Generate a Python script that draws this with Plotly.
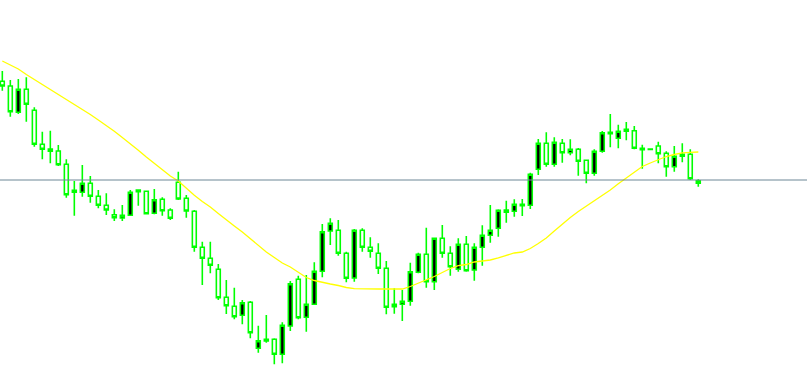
import plotly.graph_objects as go

# bar index
bars = list(range(88))

opens = [318.7, 314, 287.7, 310.7, 289.7, 255.7, 251, 249, 235.7, 209.7,
         207.7, 216.7, 203.7, 194.7, 185.3, 182, 184.7, 210, 208.7, 186.7,
         200.7, 190, 217.7, 201.7, 188.7, 152.7, 141.7, 130.7, 102.7, 93.7,
         84.7, 97.7, 51.7, 60.7, 60.7, 45.7, 74, 120.7, 82.7, 95.7,
         128.7, 169, 169.7, 146.7, 122, 169.7, 152.7, 146.7, 131.7, 93.3,
         95.7, 98.7, 127.7, 145.7, 118.3, 161.7, 146.7, 130.7, 155.7, 130,
         152.7, 164.7, 171.7, 190, 188.7, 195.7, 194.7, 230.7, 256.7, 235.7,
         256.7, 247.3, 250.7, 239.7, 226.7, 248.7, 267.7, 261.7, 270.7, 269.3,
         251.7, 250.9, 254, 246.7, 233.3, 243.7, 245.7, 216.7]
highs = [329, 320, 321, 322.7, 292.7, 268.3, 269.3, 255, 240.7, 219,
         235, 224, 210, 206.7, 190.7, 195, 210, 210.7, 209, 211,
         202.7, 191.7, 228.3, 205, 190, 158.3, 158.3, 136, 120, 112.3,
         100, 99, 74.3, 85, 61.7, 77.7, 119, 124.3, 125, 137.7,
         176, 181.7, 180, 148.3, 171, 171.7, 162.7, 156.7, 139, 111.7,
         110, 137.3, 147.3, 172.3, 162.3, 175, 153.7, 161.7, 164, 156.7,
         174.7, 195, 190.7, 199.3, 200.7, 201, 227.3, 261, 267.7, 262.7,
         261, 260.7, 252, 240, 250.7, 269, 286, 275.3, 278, 274,
         255.3, 251, 258.3, 248.7, 254, 256.7, 250.7, 220.7]
lows = [309.3, 283.3, 286, 278.3, 253.3, 240.7, 236.7, 234, 202.3, 184.3,
        203.3, 197.3, 191.7, 185, 179, 179, 184.3, 194.3, 185.7, 185.7,
        184.3, 180, 200, 182.3, 148.3, 115, 126.7, 100, 86, 80.7,
        75.7, 61.7, 47.3, 57.3, 35.7, 36.7, 69, 80.7, 68.3, 95,
        122.7, 155, 144.3, 117.7, 118.3, 148.3, 142.3, 126, 85.7, 86.3,
        79, 94.3, 126.7, 112.3, 110, 142.3, 124.3, 128.3, 128.3, 119.3,
        134.3, 157.3, 163.3, 177.3, 183.3, 184, 191, 225, 233.3, 233.3,
        237.3, 244.7, 224.3, 216.7, 224.3, 247.3, 252.7, 251.7, 259.7, 250.7,
        231.3, 250.5, 236.7, 223.3, 228.3, 237.7, 220, 213.3]
closes = [314, 288.3, 310.7, 295.7, 255.7, 250.7, 248.7, 235.3, 205.3, 207.7,
          216.7, 203.7, 194.7, 190, 182.3, 184.7, 207.7, 208.3, 186.3, 200.3,
          189.3, 181.7, 201, 189, 152.7, 141.7, 134.7, 102.3, 94.3, 83.3,
          97.3, 67.3, 59.3, 59, 45.7, 74.7, 116.3, 82.3, 95.7, 128.7,
          168.3, 176.7, 146.7, 121.7, 169.7, 152.7, 148.7, 131.7, 92.7, 95.7,
          98.7, 128.3, 145.7, 118.3, 161.7, 146.7, 133.3, 155.7, 129.3, 152.7,
          164.7, 169.7, 189.7, 187.7, 195.7, 194.3, 225.7, 256.7, 235.7, 257.7,
          247.3, 250.7, 238.7, 226.7, 248.7, 267.3, 266.3, 268.7, 268.7, 251.7,
          250.3, 250.6, 246.3, 233.3, 243.7, 245.7, 221.3, 219.3]

ma_values = [339, 335, 331, 325.5, 320.5, 315.3, 310.5, 306, 300.7, 295.5,
             290.3, 285.5, 280, 274.5, 268.7, 262.5, 256.5, 249.7, 243, 236.5,
             230, 224, 219, 211.5, 204.7, 198.5, 193, 186.5, 180, 174,
             168, 161.5, 154.7, 148, 142.5, 137, 133, 128, 122.5, 119.5,
             117.5, 116, 114.5, 112.5, 111.3, 111, 111, 111, 111, 111,
             111, 113.5, 116.7, 119.5, 123.5, 127.5, 131.5, 134.3, 135.5, 138,
             139, 140, 142.2, 144.5, 147, 148, 151.5, 156.5, 162, 169,
             176, 182.5, 188.5, 193.7, 199.5, 204.5, 210, 216.3, 222, 228.5,
             233.5, 237, 240, 243.5, 245.5, 247.2, 247.7, 248]

level_price = 220

fig = go.Figure()

fig.add_trace(go.Scatter(
    x=bars, y=ma_values, mode="lines",
    line=dict(color="#FFFF00", width=1.3),
    hoverinfo="skip",
))

fig.add_trace(go.Candlestick(
    x=bars, open=opens, high=highs, low=lows, close=closes,
    increasing=dict(line=dict(color="#00FF00", width=1.6), fillcolor="#000000"),
    decreasing=dict(line=dict(color="#00FF00", width=1.6), fillcolor="#FFFFFF"),
    whiskerwidth=0,
))

fig.add_hline(y=level_price, line=dict(color="#6C8796", width=1))

fig.update_layout(
    width=807, height=383,
    margin=dict(l=0, r=0, t=0, b=0),
    paper_bgcolor="#FFFFFF", plot_bgcolor="#FFFFFF",
    showlegend=False,
    xaxis=dict(range=[-0.29, 100.59], visible=False, rangeslider=dict(visible=False),
               showgrid=False, zeroline=False),
    yaxis=dict(range=[17, 400], visible=False, showgrid=False, zeroline=False),
)

fig.write_html(
    "out.html",
    config={"displayModeBar": False},
    post_script="document.body.style.margin='0';document.body.style.overflow='hidden';",
)
